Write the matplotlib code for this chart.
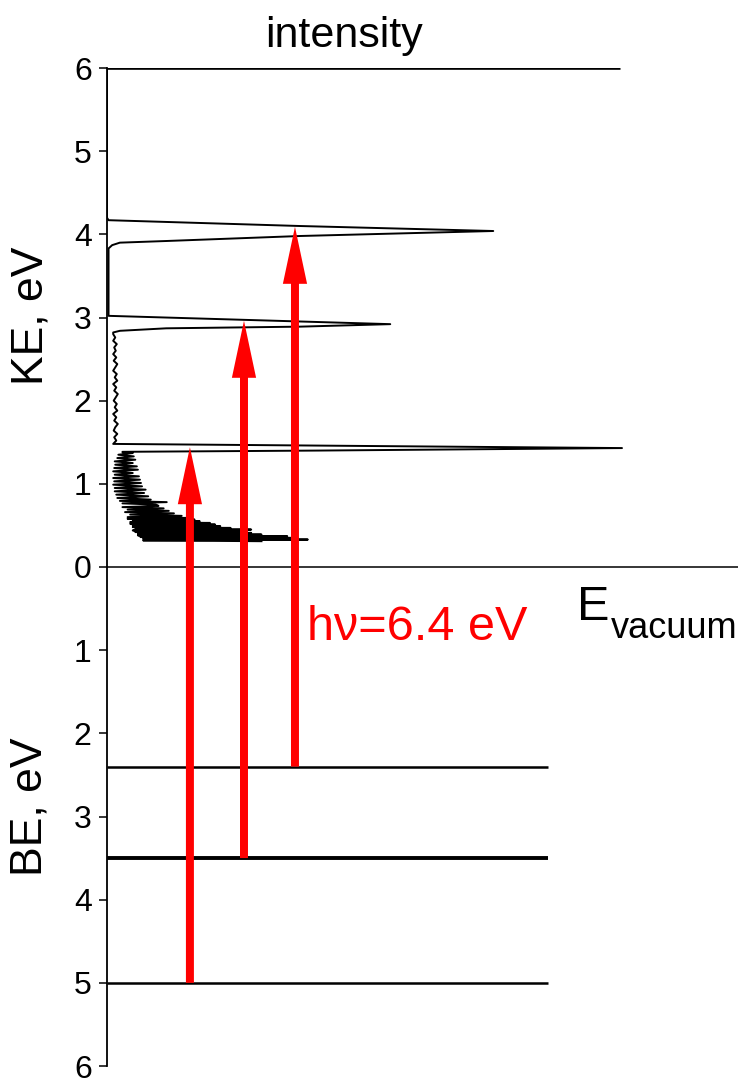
import matplotlib
matplotlib.use("Agg")
import matplotlib.pyplot as plt

plt.rcParams['font.family'] = ['Liberation Sans', 'DejaVu Sans']

# photoemission spectrum, kinetic energy (eV) vs intensity (peak = 1)
ke = [0.31, 0.32, 0.33, 0.34, 0.35, 0.36, 0.37, 0.38, 0.39, 0.40,
      0.41, 0.42, 0.43, 0.44, 0.45, 0.46, 0.47, 0.48, 0.49, 0.50,
      0.51, 0.52, 0.53, 0.54, 0.55, 0.56, 0.57, 0.58, 0.59, 0.60,
      0.615, 0.63, 0.645, 0.66, 0.675, 0.69, 0.705, 0.72, 0.735,
      0.75, 0.765, 0.78, 0.795, 0.81, 0.83, 0.85, 0.87, 0.89, 0.91,
      0.93, 0.95, 0.97, 0.99, 1.01, 1.03, 1.05, 1.07, 1.09, 1.11,
      1.13, 1.15, 1.17, 1.19, 1.21, 1.23, 1.25, 1.27, 1.29, 1.31,
      1.33, 1.35, 1.37, 1.38, 1.385, 1.40, 1.43, 1.48,
      1.52, 1.56, 1.60, 1.64, 1.68, 1.72, 1.76, 1.80, 1.84, 1.88,
      1.92, 1.96, 2.00, 2.04, 2.08, 2.12, 2.16, 2.20, 2.24, 2.28,
      2.32, 2.36, 2.40, 2.44, 2.48, 2.52, 2.56, 2.60, 2.64, 2.68,
      2.72, 2.76, 2.80, 2.82, 2.84, 2.87, 2.89, 2.92, 2.97, 3.02,
      3.40, 3.83, 3.87, 3.90, 3.92, 3.98, 4.04, 4.10, 4.17, 4.20, 6.0]
intensity = [0.30, 0.07, 0.39, 0.07, 0.37, 0.065, 0.35, 0.06, 0.30, 0.06,
             0.28, 0.055, 0.27, 0.05, 0.28, 0.055, 0.24, 0.05, 0.22, 0.05,
             0.21, 0.045, 0.20, 0.045, 0.18, 0.05, 0.17, 0.04, 0.155, 0.04,
             0.145, 0.045, 0.13, 0.035, 0.12, 0.04, 0.11, 0.03, 0.10,
             0.095, 0.03, 0.116, 0.025, 0.085, 0.02, 0.08, 0.018, 0.072, 0.015,
             0.075, 0.015, 0.068, 0.012, 0.066, 0.014, 0.064, 0.012, 0.062, 0.015,
             0.05, 0.012, 0.06, 0.014, 0.058, 0.016, 0.05, 0.015, 0.055, 0.02,
             0.052, 0.022, 0.05, 0.03, 0.03, 0.41, 1.0, 0.012,
             0.018, 0.014, 0.02, 0.013, 0.016, 0.021, 0.014, 0.018, 0.012, 0.02,
             0.015, 0.019, 0.013, 0.017, 0.021, 0.014, 0.018, 0.012, 0.02, 0.015,
             0.019, 0.012, 0.016, 0.02, 0.013, 0.018, 0.012, 0.017, 0.014, 0.019,
             0.012, 0.016, 0.012, 0.012, 0.025, 0.115, 0.375, 0.55, 0.28, 0.003,
             0.003, 0.003, 0.01, 0.025, 0.116, 0.375, 0.75, 0.375, 0.003, 0.0, 0.0]

# binding energies of the occupied levels (eV)
be_levels = [2.4, 3.5, 5.0]
be_widths = [1.8, 2.8, 1.8]
arrow_tops = [4.09, 2.96, 1.44]   # KE where each red arrow ends
arrow_x = [0.365, 0.266, 0.161]
ticks = [6, 5, 4, 3, 2, 1, 0, -1, -2, -3, -4, -5, -6]
tick_labels = [str(abs(t)) for t in ticks]

fig = plt.figure(figsize=(7.38, 10.78), dpi=100)
ax = fig.add_axes([107 / 738, 12 / 1078, 631 / 738, 998 / 1078])
ax.set_xlim(0, 631 / 515)
ax.set_ylim(-6, 6)

# reference lines
ax.hlines(6, 0, 0.996, color='black', lw=1.9, zorder=2)
ax.axhline(0, color='black', lw=1.1, zorder=2)
for lev, w in zip(be_levels, be_widths):
    ax.hlines(-lev, 0, 0.856, color='black', lw=w, zorder=2)

ax.plot(intensity, ke, color='black', lw=1.4, zorder=3)

# excitation arrows
for x, lev, top in zip(arrow_x, be_levels, arrow_tops):
    ax.arrow(x, -lev, 0, top + lev, width=0.0155, head_width=0.047,
             head_length=0.685, length_includes_head=True,
             color='#ff0000', lw=0, zorder=4)

for s in ['top', 'right', 'bottom']:
    ax.spines[s].set_visible(False)
ax.spines['left'].set_linewidth(1.3)
ax.set_xticks([])
ax.set_yticks(ticks)
ax.set_yticklabels(tick_labels)
ax.tick_params(axis='y', direction='out', length=6, width=1.1, pad=5,
               labelsize=23)

fig.text(31 / 738, 1 - 316 / 1078, 'KE, eV', rotation=90, fontsize=32,
         ha='center', va='center')
fig.text(30 / 738, 1 - 807 / 1078, 'BE, eV', rotation=90, fontsize=32,
         ha='center', va='center')
fig.text(344 / 738, 1 - 47 / 1078, 'intensity', fontsize=31,
         ha='center', va='baseline')
fig.text(307 / 738, 1 - 640 / 1078, 'h\u03bd=6.4 eV', fontsize=35,
         color='#ff0000', ha='left', va='baseline')
fig.text(577 / 738, 1 - 620 / 1078, 'E', fontsize=35, ha='left', va='baseline')
fig.text(611 / 738, 1 - 638 / 1078, 'vacuum', fontsize=26, ha='left',
         va='baseline')

fig.savefig('out.png', dpi=100)
